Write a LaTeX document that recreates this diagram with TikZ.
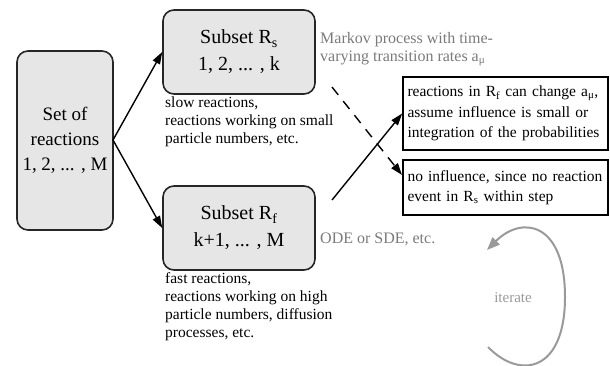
\documentclass[tikz,border=0pt]{standalone}
\usepackage{fontspec}
\setmainfont{Liberation Serif}
\usetikzlibrary{arrows.meta}
\definecolor{boxfill}{HTML}{E6E6E6}
\definecolor{graytext}{HTML}{7A7A7A}
\definecolor{iterg}{HTML}{9A9A9A}
\begin{document}
\begin{tikzpicture}[x=1pt,y=-1pt,
  rbox/.style={draw=black!85, line width=1.6pt, rounded corners=11pt, fill=boxfill, align=center,
     font=\fontsize{20}{27}\selectfont, inner sep=0pt},
  sqbox/.style={draw=black, line width=1.6pt, fill=white, align=left, inner ysep=0pt, inner xsep=4.5pt,
     font=\fontsize{15.5}{20.5}\selectfont},
  note/.style={align=left, anchor=north west, inner sep=0pt, font=\fontsize{15.5}{18}\selectfont},
  gnote/.style={note, text=graytext, font=\fontsize{16}{18}\selectfont},
  arr/.style={-{Triangle[length=12pt,width=8pt]}, line width=1.4pt},
]
\useasboundingbox (0,0) rectangle (610,365);
\node[rbox, minimum width=96pt, minimum height=179pt, font=\fontsize{19}{25}\selectfont] (set) at (65,140.5) {Set of\\reactions\\1, 2, ... , M};
\node[rbox, minimum width=152pt, minimum height=84pt] (rs) at (239,52) {Subset R\textsubscript{s}\\1, 2, ... , k};
\node[rbox, minimum width=152pt, minimum height=84pt] (rf) at (239,228) {Subset R\textsubscript{f}\\k+1, ... , M};
\node[sqbox, minimum width=205pt, minimum height=73pt, text width=196pt] (b1) at (505.5,113.5)
  {\hyphenpenalty=10000 reactions in R\textsubscript{f} can change a\textsubscript{μ},\\assume influence is small or\\integration of the probabilities};
\node[sqbox, minimum width=205pt, minimum height=55pt, text width=196pt] (b2) at (505.5,187.5)
  {\hyphenpenalty=10000 no influence, since no reaction\\event in R\textsubscript{s} within step};
\node[note] (slow) at (165,97) {slow reactions,\\reactions working on small\\particle numbers, etc.};
\node[note] (fast) at (165,272) {fast reactions,\\reactions working on high\\particle numbers, diffusion\\processes, etc.};
\node[gnote] (markov) at (320,32) {Markov process with time-\\varying transition rates a\textsubscript{μ}};
\node[gnote] (ode) at (320,233) {ODE or SDE, etc.};
\node[text=iterg, font=\fontsize{15}{18}\selectfont, inner sep=0pt] (it) at (513,298) {iterate};
\coordinate (sp) at (113,140);
\draw[arr] (sp) -- (rs.west);
\draw[arr] (sp) -- (rf.west);
\coordinate (ds) at (332,87);
\coordinate (de) at (402,175);
\coordinate (us) at (332,200);
\draw[arr, dash pattern=on 10pt off 8pt] (ds) -- (de);
\draw[arr] (us) -- (b1.west);
\coordinate (i0) at (488,347);
\coordinate (i1) at (565,297);
\coordinate (i2) at (487,250);
\draw[line width=2pt, iterg, -{Triangle[length=13pt,width=10pt]}]
  (i0) .. controls (520,380) and (565,372) .. (i1)
       .. controls (565,222) and (522,215) .. (i2);
\end{tikzpicture}
\end{document}
